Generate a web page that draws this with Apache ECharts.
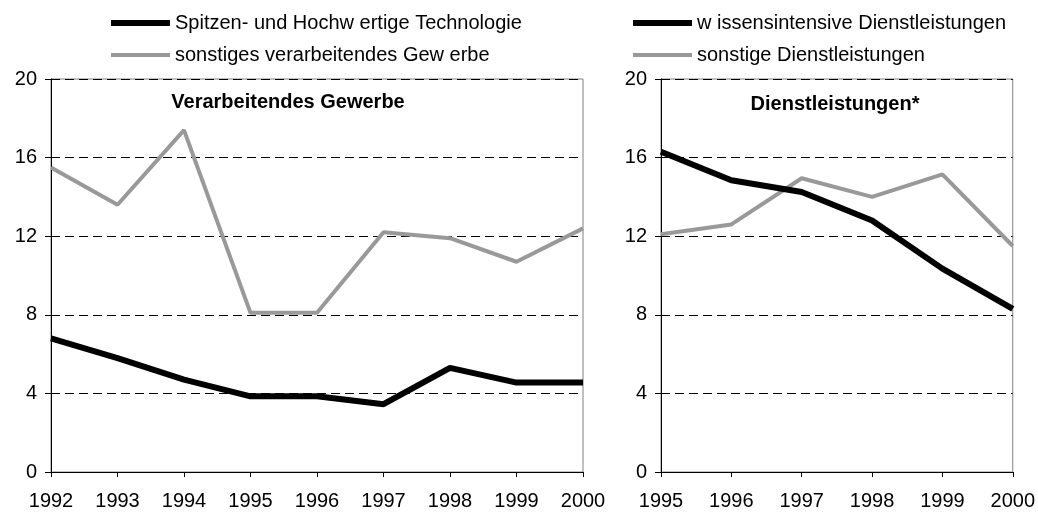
<!DOCTYPE html>
<html>
<head>
<meta charset="utf-8">
<script src="https://cdn.jsdelivr.net/npm/echarts@6.0.0/dist/echarts.min.js"></script>
<style>
  html, body { margin: 0; padding: 0; background: #fff; }
  #chart { width: 1038px; height: 512px; }
</style>
</head>
<body>
<div id="chart"></div>
<script>
// Werte
var yearsLeft = ['1992', '1993', '1994', '1995', '1996', '1997', '1998', '1999', '2000']
var hochTech = [6.8, 5.8, 4.7, 3.85, 3.85, 3.45, 5.3, 4.55, 4.55]
var sonstVerarb = [15.5, 13.6, 17.4, 8.1, 8.1, 12.2, 11.9, 10.7, 12.4]

var yearsRight = ['1995', '1996', '1997', '1998', '1999', '2000']
var wissDienst = [16.3, 14.85, 14.25, 12.8, 10.35, 8.3]
var sonstDienst = [12.1, 12.6, 14.95, 14.0, 15.15, 11.5]

var yTicks = { min: 0, max: 20, interval: 4 }
var colors = ['#000000', '#999999']
var font = "'Liberation Sans', Arial, sans-serif"

function xAxisFor (gridIndex, data) {
  return {
    type: 'category',
    gridIndex: gridIndex,
    data: data,
    boundaryGap: false,
    axisLine: { lineStyle: { color: '#000', width: 1 } },
    axisTick: { length: 5, lineStyle: { color: '#000' } },
    axisLabel: { color: '#000', fontSize: 20, margin: 19, fontFamily: font },
    splitLine: { show: false }
  }
}

function yAxisFor (gridIndex) {
  return {
    type: 'value',
    gridIndex: gridIndex,
    min: yTicks.min,
    max: yTicks.max,
    interval: yTicks.interval,
    axisLine: { show: true, lineStyle: { color: '#000', width: 1 } },
    axisTick: { show: true, length: 6, lineStyle: { color: '#000' } },
    axisLabel: { color: '#000', fontSize: 20, margin: 14, fontFamily: font },
    splitLine: { show: true, lineStyle: { color: '#000', width: 1, type: [9, 5] } }
  }
}

function lineSeries (name, idx, data, color, width) {
  return {
    name: name,
    type: 'line',
    xAxisIndex: idx,
    yAxisIndex: idx,
    data: data,
    symbol: 'none',
    lineStyle: { color: color, width: width },
    itemStyle: { color: color },
    animation: false
  }
}

var thickIcon = 'path://M0,0H60V6H0Z' // dicke Linie
var thinIcon = 'path://M0,1H60V5H0Z' // duenne Linie

function legendFor (left, names) {
  return {
    orient: 'vertical',
    left: left,
    top: 13,
    padding: 0,
    itemGap: 12,
    itemWidth: 59,
    itemHeight: 6,
    selectedMode: false,
    textStyle: { color: '#000', fontSize: 20, fontFamily: font },
    data: [
      { name: names[0], icon: thickIcon, itemStyle: { color: colors[0] } },
      { name: names[1], icon: thinIcon, itemStyle: { color: colors[1] } }
    ]
  }
}

var chart = echarts.init(document.getElementById('chart'))
var option = {
  animation: false,
  textStyle: { fontFamily: font },
  grid: [
    { left: 51, right: 455, top: 79, bottom: 40, show: true, borderColor: '#808080', borderWidth: 1 },
    { left: 661, right: 23, top: 79, bottom: 40, show: true, borderColor: '#808080', borderWidth: 1 }
  ],
  legend: [
    legendFor(111, ['Spitzen- und Hochw ertige Technologie', 'sonstiges verarbeitendes Gew erbe']),
    legendFor(633, ['w issensintensive Dienstleistungen', 'sonstige Dienstleistungen'])
  ],
  graphic: [
    {
      type: 'text', x: 288, y: 102,
      style: { text: 'Verarbeitendes Gewerbe', fill: '#000', font: 'bold 20px ' + font, textAlign: 'center', textVerticalAlign: 'middle' }
    },
    {
      type: 'text', x: 835, y: 104,
      style: { text: 'Dienstleistungen*', fill: '#000', font: 'bold 20px ' + font, textAlign: 'center', textVerticalAlign: 'middle' }
    }
  ],
  xAxis: [xAxisFor(0, yearsLeft), xAxisFor(1, yearsRight)],
  yAxis: [yAxisFor(0), yAxisFor(1)],
  series: [
    lineSeries('sonstiges verarbeitendes Gew erbe', 0, sonstVerarb, colors[1], 4),
    lineSeries('Spitzen- und Hochw ertige Technologie', 0, hochTech, colors[0], 6),
    lineSeries('sonstige Dienstleistungen', 1, sonstDienst, colors[1], 4),
    lineSeries('w issensintensive Dienstleistungen', 1, wissDienst, colors[0], 6)
  ]
}
chart.setOption(option)
</script>
</body>
</html>
